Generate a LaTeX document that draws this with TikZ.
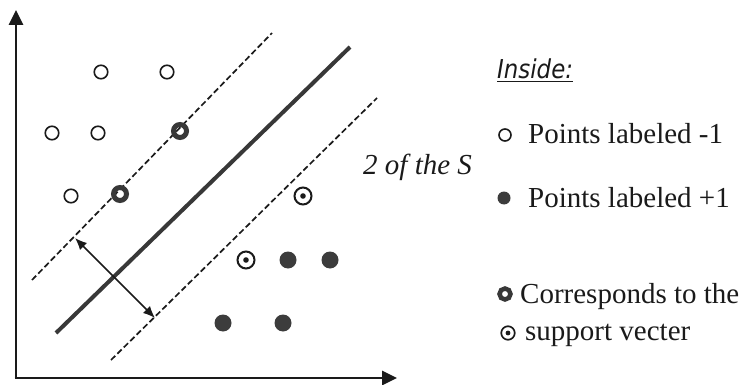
\documentclass[tikz,border=0pt]{standalone}
\usepackage{fontspec}
\setmainfont{Liberation Serif}
\newfontfamily\insidefont[FakeStretch=0.88]{DejaVu Sans}
\usetikzlibrary{arrows.meta}
\definecolor{ink}{HTML}{1A1A1A}
\definecolor{ringgray}{HTML}{383838}
\definecolor{dotgray}{HTML}{3C3C3C}
\begin{document}
\begin{tikzpicture}[x=1pt,y=-1pt,
  axis/.style={draw=ink,line width=2.8pt,-{Triangle[length=15pt,width=14pt]}},
  sepline/.style={draw=ringgray,line width=4pt},
  marginline/.style={draw=ink,line width=1.7pt,dash pattern=on 6pt off 3pt},
  widtharrow/.style={draw=ink,line width=1.6pt,{Latex[length=12pt,width=10pt]}-{Latex[length=12pt,width=10pt]}},
  negpt/.style={circle,draw=ink,line width=1.6pt,minimum size=13.5pt,inner sep=0pt},
  negsv/.style={circle,draw=ringgray,line width=5pt,minimum size=13pt,inner sep=0pt},
  possv/.style={circle,draw=ink,line width=2pt,minimum size=17pt,inner sep=0pt,
     path picture={\fill[ink] (path picture bounding box.center) circle (2.8pt);}},
  pospt/.style={circle,fill=dotgray,minimum size=17pt,inner sep=0pt},
  lneg/.style={circle,draw=ink,line width=1.6pt,minimum size=12pt,inner sep=0pt},
  lpos/.style={circle,fill=dotgray,minimum size=13pt,inner sep=0pt},
  lnegsv/.style={circle,draw=ringgray,line width=4.5pt,minimum size=11pt,inner sep=0pt},
  lpossv/.style={circle,draw=ink,line width=1.7pt,minimum size=13.5pt,inner sep=0pt,
     path picture={\fill[ink] (path picture bounding box.center) circle (2.4pt);}},
  txt/.style={inner sep=0pt,anchor=base west,text=ink,font=\fontsize{29}{33}\selectfont}
]
\useasboundingbox (0,0) rectangle (744,385);
% axes
\coordinate (O) at (16,378);
\coordinate (ytop) at (16,10);
\coordinate (xend) at (397,378);
\coordinate (xstart) at (14.6,378);
\draw[axis] (O) -- (ytop);
\draw[axis] (xstart) -- (xend);
% separating line and margins
\coordinate (s1) at (56,333);
\coordinate (s2) at (350,47);
\draw[sepline] (s1) -- (s2);
\coordinate (u1) at (32,280);
\coordinate (u2) at (272,33);
\draw[marginline] (u1) -- (u2);
\coordinate (l1) at (111,360);
\coordinate (l2) at (377,98);
\draw[marginline] (l1) -- (l2);
% margin width arrow
\coordinate (w1) at (75,238);
\coordinate (w2) at (155,318);
\draw[widtharrow] (w1) -- (w2);
% points labeled -1
\node[negpt] (n1) at (101,72) {};
\node[negpt] (n2) at (167,72) {};
\node[negpt] (n3) at (52,133) {};
\node[negpt] (n4) at (98,133) {};
\node[negpt] (n5) at (71,196) {};
\node[negsv] (sv1) at (180,131) {};
\node[negsv] (sv2) at (120,194) {};
% points labeled +1
\node[possv] (sv3) at (303,196) {};
\node[possv] (sv4) at (246,260) {};
\node[pospt] (p1) at (288,260) {};
\node[pospt] (p2) at (330,260) {};
\node[pospt] (p3) at (223,323) {};
\node[pospt] (p4) at (283,323) {};
% text
\node[txt,font=\fontsize{29}{33}\selectfont\itshape] (two) at (363,175) {2 of the S};
\node[inner sep=0pt,anchor=base west,text=ink,font=\insidefont\fontsize{26}{30}\selectfont\itshape] (inside) at (497,79) {\underline{Inside:}};
\node[lneg] (lg1) at (505,135) {};
\node[txt] (t1) at (528,143) {Points labeled -1};
\node[lpos] (lg2) at (504,198) {};
\node[txt] (t2) at (528,207) {Points labeled +1};
\node[lnegsv] (lg3) at (505,294) {};
\node[txt] (t3) at (520,303) {Corresponds to the};
\node[lpossv] (lg4) at (508,333) {};
\node[txt] (t4) at (525,340) {support vecter};
\end{tikzpicture}
\end{document}
